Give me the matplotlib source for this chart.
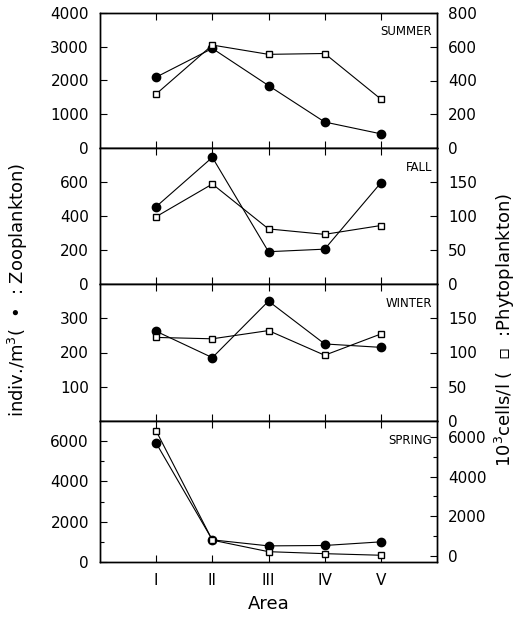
import numpy as np
import matplotlib
matplotlib.use('Agg')
from matplotlib import pyplot as plt
from matplotlib.ticker import MultipleLocator

# areas along the transect
areas = ['I', 'II', 'III', 'IV', 'V']
area_x = [1, 2, 3, 4, 5]

seasons = ['SUMMER', 'FALL', 'WINTER', 'SPRING']

# zooplankton (indiv./m3), filled circles, left axis
zoo_summer = [2100, 2950, 1850, 770, 420]
zoo_fall = [455, 745, 190, 205, 595]
zoo_winter = [262, 185, 350, 225, 215]
zoo_spring = [5900, 1100, 800, 820, 1000]

# phytoplankton (10^3 cells/l), open squares, right axis
phy_summer = [320, 610, 555, 560, 290]
phy_fall = [99, 147, 81, 73, 86]
phy_winter = [122, 120, 132, 96, 127]
phy_spring = [6300, 800, 220, 120, 40]

zoo = [zoo_summer, zoo_fall, zoo_winter, zoo_spring]
phy = [phy_summer, phy_fall, phy_winter, phy_spring]

# axis ranges and ticks per panel
left_lim = [(0, 4000), (0, 800), (0, 400), (0, 7000)]
left_ticks = [[0, 1000, 2000, 3000, 4000], [0, 200, 400, 600], [100, 200, 300], [0, 2000, 4000, 6000]]
right_lim = [(0, 800), (0, 200), (0, 200), (-300, 6800)]
right_ticks = [[0, 200, 400, 600, 800], [0, 50, 100, 150], [0, 50, 100, 150], [0, 2000, 4000, 6000]]

W, H = 521, 621
fig = plt.figure(figsize=(W/100, H/100), dpi=100)

ax_left = 100/W
ax_w = 337/W
tops = [13, 148, 284, 421]
bots = [148, 284, 421, 562]

for i in range(4):
    ax = fig.add_axes([ax_left, 1-bots[i]/H, ax_w, (bots[i]-tops[i])/H])
    ax2 = ax.twinx()

    ax.plot(area_x, zoo[i], color='black', lw=0.8, marker='o', ms=6,
            mfc='black', mec='black', zorder=3)
    ax2.plot(area_x, phy[i], color='black', lw=0.8, marker='s', ms=5,
             mfc='white', mec='black', mew=1.0, zorder=3)

    ax.set_xlim(0, 6)
    ax.set_ylim(*left_lim[i])
    ax2.set_ylim(*right_lim[i])
    ax.set_yticks(left_ticks[i])
    ax2.set_yticks(right_ticks[i])
    if i == 3:
        ax.yaxis.set_minor_locator(MultipleLocator(1000))
        ax2.yaxis.set_minor_locator(MultipleLocator(1000))

    ax.set_xticks(area_x)
    if i == 3:
        ax.set_xticklabels(areas)
    else:
        ax.set_xticklabels([])

    ax.tick_params(axis='x', direction='in', top=True, bottom=True, length=5,
                   width=0.8, labelsize=11, pad=8)
    ax.tick_params(axis='y', which='both', direction='in', length=5, width=0.8,
                   labelsize=11, pad=8)
    ax.tick_params(axis='y', which='minor', length=3)
    ax2.tick_params(axis='y', which='both', direction='in', length=5, width=0.8,
                    labelsize=11, pad=8)
    ax2.tick_params(axis='y', which='minor', length=3)

    for a in (ax, ax2):
        for s in a.spines.values():
            s.set_linewidth(1.0)

    ax.text(0.985, 0.86, seasons[i], transform=ax.transAxes, ha='right',
            va='center', fontsize=8.5)

    if i == 3:
        ax.set_xlabel('Area', fontsize=13, labelpad=5)

fig.text(18/W, 1-290/H, 'indiv./m$^3$(  \u2022  : Zooplankton)', rotation=90,
         ha='center', va='center', fontsize=13)
fig.text(505/W, 1-330/H, '10$^3$cells/l (  \u25ab  :Phytoplankton)', rotation=90,
         ha='center', va='center', fontsize=13)

fig.savefig('out.png', dpi=100, facecolor='white')
